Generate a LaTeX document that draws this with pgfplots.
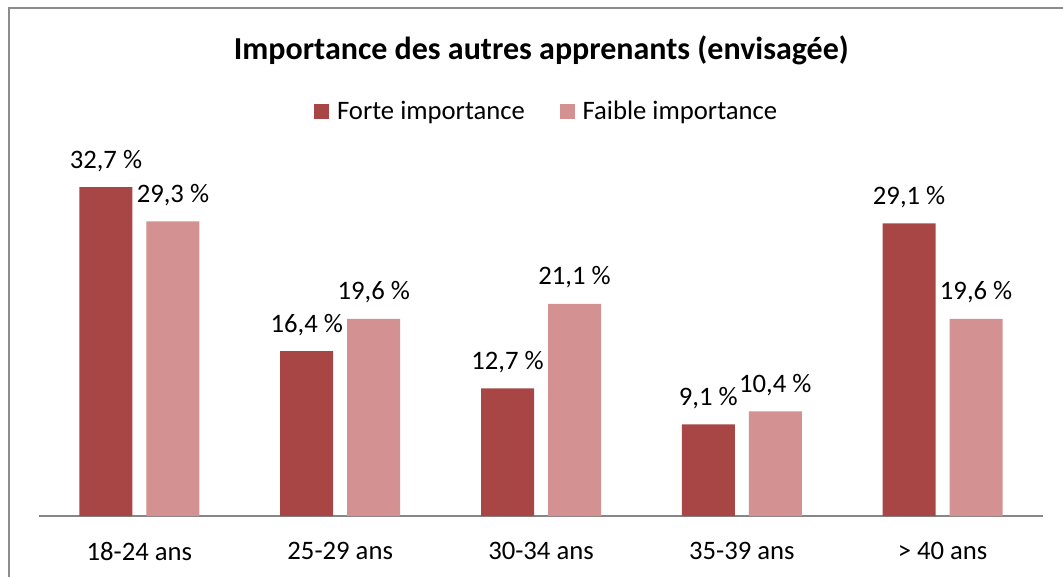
\documentclass[border=0pt]{standalone}
\usepackage{fontspec}
\setmainfont{Carlito}
\usepackage{pgfplots}
\pgfplotsset{compat=1.18}

\definecolor{forte}{HTML}{A84646}
\definecolor{faible}{HTML}{D39191}
\definecolor{framegray}{HTML}{8C8C8C}
\definecolor{axisgray}{HTML}{868686}

\begin{document}
\begin{tikzpicture}
% 1 px of the reference = 0.75pt
\useasboundingbox (0pt,0pt) rectangle (797.25pt,-432pt);
\draw[framegray, line width=1.1pt] (6.75pt,-440pt) |- (805pt,-6pt);
\node[font=\fontsize{24}{28}\selectfont\bfseries, anchor=base] at (406pt,-44.25pt)
  {Importance des autres apprenants (envisagée)};
\begin{axis}[
  at={(29.25pt,-387pt)}, anchor=south west,
  scale only axis, width=753pt, height=271.6pt,
  xmin=-0.5, xmax=4.5, ymin=0, ymax=36,
  ybar=10.5pt, bar width=39.75pt,
  axis y line=none, axis x line*=bottom,
  x axis line style={axisgray, line width=1.5pt, -},
  xtick=data, major tick length=0pt,
  xticklabels={18-24 ans, 25-29 ans, 30-34 ans, 35-39 ans, > 40 ans},
  xticklabel style={font=\fontsize{20}{24}\selectfont, yshift=-16pt},
  /pgf/number format/assume math mode=true,
  nodes near coords={\pgfmathprintnumber[fixed,fixed zerofill,precision=1,use comma]{\pgfplotspointmeta}~\%},
  every node near coord/.append style={font=\fontsize{20}{24}\selectfont, black, anchor=base, inner sep=0pt, yshift=14.25pt},
  legend columns=-1,
  legend style={draw=none, fill=none, at={(0.5,1)}, anchor=south, yshift=20pt, xshift=4.5pt,
    font=\fontsize{20}{24}\selectfont,
    /tikz/every odd column/.append style={column sep=4pt},
    /tikz/every even column/.append style={column sep=24pt}},
]
\addplot[fill=forte, draw=none,
  legend image code/.code={\fill[forte] (0pt,-5.6pt) rectangle (11.25pt,5.6pt);}]
  coordinates {(0,32.7) (1,16.4) (2,12.7) (3,9.1) (4,29.1)};
\addplot[fill=faible, draw=none,
  legend image code/.code={\fill[faible] (0pt,-5.6pt) rectangle (11.25pt,5.6pt);}]
  coordinates {(0,29.3) (1,19.6) (2,21.1) (3,10.4) (4,19.6)};
\legend{Forte importance, Faible importance}
\end{axis}
\end{tikzpicture}
\end{document}
